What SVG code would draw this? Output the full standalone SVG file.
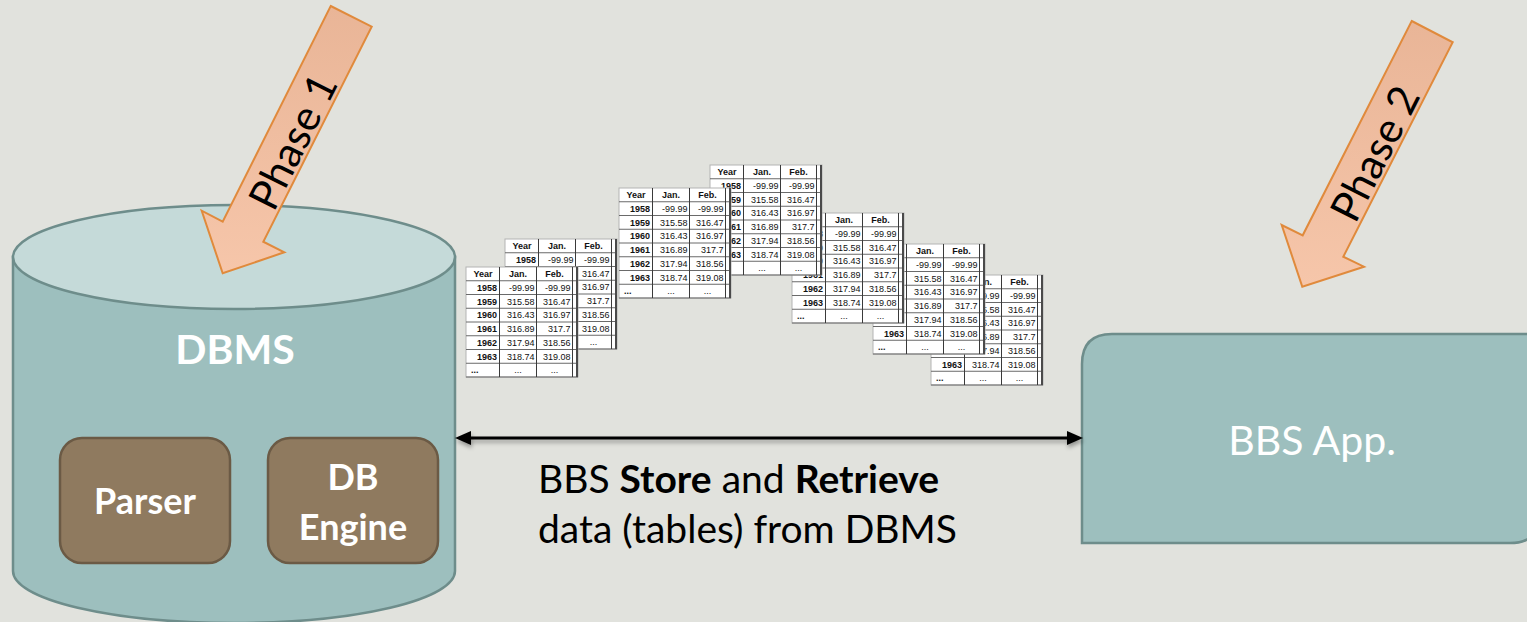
<svg xmlns="http://www.w3.org/2000/svg" xmlns:xlink="http://www.w3.org/1999/xlink" width="1527" height="622" viewBox="0 0 1527 622">
  <style>
    .bg { fill: #e1e2dd; }
    .teal { fill: #9dbfbe; stroke: #6e8d8b; stroke-width: 2.5; }
    .teal-top { fill: #c5dad9; stroke: #6e8d8b; stroke-width: 2.5; }
    .brown { fill: #8f7a5f; stroke: #6b5a45; stroke-width: 2.5; }
    .phase { fill: url(#peach); stroke: #e08a3c; stroke-width: 2; stroke-linejoin: miter; }
    .lbl-bold { font-family: Lato, "Liberation Sans", sans-serif; font-weight: bold; fill: #ffffff; text-anchor: middle; }
    .lbl { font-family: Lato, "Liberation Sans", sans-serif; fill: #ffffff; text-anchor: middle; }
    .phase-txt { font-family: Lato, "Liberation Sans", sans-serif; font-size: 42px; fill: #000000; text-anchor: middle; dominant-baseline: central; }
    .caption { font-family: Lato, "Liberation Sans", sans-serif; font-size: 39px; fill: #000000; }
    .conn { stroke: #000000; stroke-width: 3; fill: none; }
    .t-bg { fill: #ffffff; stroke: #b4b4b4; stroke-width: 1; }
    .t-h { stroke: #6a6a6a; stroke-width: 1; }
    .t-v { stroke: #3a3a3a; stroke-width: 1; }
    .t-edge { stroke: #4a4a4a; stroke-width: 2; }
    .t-txt { font-family: "Liberation Sans", Arial, sans-serif; font-size: 9px; fill: #111111; }
    .t-b { font-weight: bold; }
  </style>
  <defs>
    <linearGradient id="peach" x1="0" y1="0" x2="0" y2="1">
      <stop offset="0" stop-color="#e9b597"/>
      <stop offset="1" stop-color="#f6c6aa"/>
    </linearGradient>
    <marker id="head" viewBox="0 0 16 14" markerUnits="userSpaceOnUse" markerWidth="16" markerHeight="14" refX="4" refY="7" orient="auto-start-reverse">
      <path d="M0,0 L16,7 L0,14 z" fill="#000000"/>
    </marker>
    <filter id="soft-shadow" filterUnits="userSpaceOnUse" x="440" y="420" width="660" height="40">
      <feDropShadow dx="1" dy="3" stdDeviation="2" flood-color="#000000" flood-opacity="0.35"/>
    </filter>
    <!-- small spreadsheet table, 112 x 110 -->
    <g id="tbl">
      <rect class="t-bg" x="0" y="0" width="112" height="110"/>
      <g class="t-h">
        <line x1="0" y1="13.75" x2="112" y2="13.75"/>
        <line x1="0" y1="27.5" x2="112" y2="27.5"/>
        <line x1="0" y1="41.25" x2="112" y2="41.25"/>
        <line x1="0" y1="55" x2="112" y2="55"/>
        <line x1="0" y1="68.75" x2="112" y2="68.75"/>
        <line x1="0" y1="82.5" x2="112" y2="82.5"/>
        <line x1="0" y1="96.25" x2="112" y2="96.25"/>
        <line x1="0" y1="110" x2="112" y2="110"/>
      </g>
      <g class="t-v">
        <line x1="33.5" y1="0" x2="33.5" y2="110"/>
        <line x1="70.5" y1="0" x2="70.5" y2="110"/>
        <line x1="106.5" y1="0" x2="106.5" y2="110"/>
      </g>
      <line class="t-edge" x1="111" y1="0" x2="111" y2="110"/>
      <g class="t-txt t-b" text-anchor="middle">
        <text x="17" y="10">Year</text>
        <text x="52" y="10">Jan.</text>
        <text x="88.5" y="10">Feb.</text>
      </g>
      <g class="t-txt t-b" text-anchor="end">
        <text x="31" y="23.75">1958</text>
        <text x="31" y="37.5">1959</text>
        <text x="31" y="51.25">1960</text>
        <text x="31" y="65">1961</text>
        <text x="31" y="78.75">1962</text>
        <text x="31" y="92.5">1963</text>
      </g>
      <text class="t-txt t-b" x="5" y="106">...</text>
      <g class="t-txt" text-anchor="end">
        <text x="68.5" y="23.75">-99.99</text>
        <text x="68.5" y="37.5">315.58</text>
        <text x="68.5" y="51.25">316.43</text>
        <text x="68.5" y="65">316.89</text>
        <text x="68.5" y="78.75">317.94</text>
        <text x="68.5" y="92.5">318.74</text>
        <text x="104.5" y="23.75">-99.99</text>
        <text x="104.5" y="37.5">316.47</text>
        <text x="104.5" y="51.25">316.97</text>
        <text x="104.5" y="65">317.7</text>
        <text x="104.5" y="78.75">318.56</text>
        <text x="104.5" y="92.5">319.08</text>
      </g>
      <g class="t-txt" text-anchor="middle" fill="#666666">
        <text x="52" y="106">...</text>
        <text x="88.5" y="106">...</text>
      </g>
    </g>
  </defs>

  <rect class="bg" x="0" y="0" width="1527" height="622"/>

  <!-- database cylinder -->
  <g id="dbms">
    <path class="teal" d="M13,257 L13,571 A221,52 0 0 0 455,571 L455,257 Z"/>
    <ellipse class="teal-top" cx="234" cy="257" rx="221" ry="52"/>
    <text class="lbl-bold" x="235" y="364" font-size="41">DBMS</text>
  </g>

  <g id="parser">
    <rect class="brown" x="60" y="438" width="170" height="125" rx="22" ry="22"/>
    <text class="lbl-bold" x="145" y="514" font-size="36">Parser</text>
  </g>

  <g id="db-engine">
    <rect class="brown" x="268" y="438" width="170" height="125" rx="22" ry="22"/>
    <text class="lbl-bold" x="353" y="490" font-size="36">DB</text>
    <text class="lbl-bold" x="353" y="540" font-size="36">Engine</text>
  </g>

  <!-- application box: rounded top-left and bottom-right corners -->
  <g id="bbs-app">
    <path class="teal" d="M1112,334 L1540,334 L1540,513 Q1540,543 1510,543 L1082,543 L1082,364 Q1082,334 1112,334 Z"/>
    <text class="lbl" x="1312" y="455" font-size="41">BBS App.</text>
  </g>

  <!-- stacked sample tables -->
  <g id="tables">
    <use xlink:href="#tbl" href="#tbl" x="505" y="239"/>
    <use xlink:href="#tbl" href="#tbl" x="466" y="267"/>
    <use xlink:href="#tbl" href="#tbl" x="931" y="275"/>
    <use xlink:href="#tbl" href="#tbl" x="873" y="244"/>
    <use xlink:href="#tbl" href="#tbl" x="792" y="213"/>
    <use xlink:href="#tbl" href="#tbl" x="710" y="165"/>
    <use xlink:href="#tbl" href="#tbl" x="619" y="188"/>
  </g>

  <!-- phase arrows -->
  <g id="phase1">
    <polygon class="phase" points="330.7,6 371.7,26.7 263.3,241.7 284.3,252.3 222.7,273.3 201.7,210.7 222.7,221.7"/>
    <text class="phase-txt" transform="translate(292,141) rotate(-63.4)">Phase 1</text>
  </g>

  <g id="phase2">
    <polygon class="phase" points="1411.7,21 1452.7,42.3 1343.3,256.7 1364,266.7 1302.3,286.7 1281.7,225 1302.7,235.3"/>
    <text class="phase-txt" transform="translate(1374,153) rotate(-63)">Phase 2</text>
  </g>

  <!-- store / retrieve link -->
  <g id="connectors" filter="url(#soft-shadow)">
    <line class="conn" x1="467" y1="438" x2="1071" y2="438" marker-start="url(#head)" marker-end="url(#head)"/>
  </g>

  <g id="caption">
    <text class="caption" x="538" y="493">BBS <tspan font-weight="bold">Store</tspan> and <tspan font-weight="bold">Retrieve</tspan></text>
    <text class="caption" x="538" y="543">data (tables) from DBMS</text>
  </g>
</svg>
